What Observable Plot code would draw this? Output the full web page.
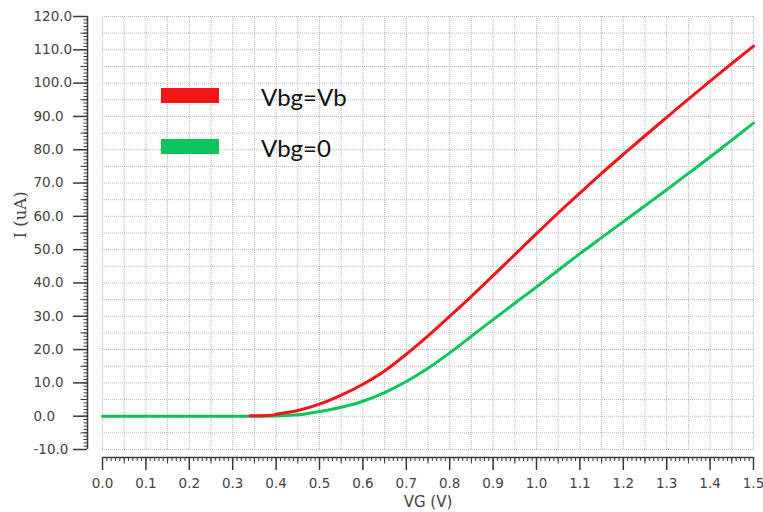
<!DOCTYPE html>
<html>
<head>
<meta charset="utf-8">
<script src="https://cdn.jsdelivr.net/npm/d3@7"></script>
<script src="https://cdn.jsdelivr.net/npm/@observablehq/plot@0.6"></script>
<style>
  html, body { margin: 0; padding: 0; background: #fff; }
  #wrap { position: relative; width: 763px; height: 512px; overflow: hidden; }
  .leg-bar { position: absolute; left: 161px; width: 58px; height: 15px; }
  .leg-txt { position: absolute; left: 261px; font-family: Lato, "Open Sans", sans-serif; font-size: 24px; color: #111; line-height: 1; }
</style>
</head>
<body>
<div id="wrap"></div>
<script>
// ---- data ----
const seriesNames = ["Vbg=Vb", "Vbg=0"];
const seriesColors = ["#f21616", "#0ec45c"];

const redVG = [0.34, 0.39, 0.40, 0.45, 0.50, 0.55, 0.60, 0.65, 0.70, 0.75, 0.80, 0.85, 0.90, 0.95, 1.00, 1.05, 1.10, 1.15, 1.20, 1.25, 1.30, 1.35, 1.40, 1.45, 1.50];
const redI  = [0.1, 0.3, 0.6, 1.7, 3.6, 6.3, 9.6, 13.6, 18.6, 24.1, 30.0, 36.0, 42.2, 48.5, 54.8, 61.0, 67.0, 72.9, 78.6, 84.2, 89.7, 95.2, 100.6, 105.9, 111.1];

const greenVG = [0.00, 0.10, 0.20, 0.30, 0.40, 0.45, 0.50, 0.55, 0.60, 0.65, 0.70, 0.75, 0.80, 0.85, 0.90, 0.95, 1.00, 1.05, 1.10, 1.15, 1.20, 1.25, 1.30, 1.35, 1.40, 1.45, 1.50];
const greenI  = [0, 0, 0, 0, 0.05, 0.4, 1.4, 2.7, 4.5, 7.1, 10.4, 14.4, 19.0, 24.0, 29.0, 33.9, 38.8, 43.8, 48.8, 53.6, 58.4, 63.2, 68.0, 72.9, 77.8, 82.9, 88.0];

// axis ticks
const xMajor = d3.range(0, 16).map(i => i / 10);            // 0.0 .. 1.5
const xMid   = d3.range(0, 15).map(i => i / 10 + 0.05);
const xMinor = d3.range(0, 151).map(i => i / 100);
const xGrid  = d3.range(0, 31).map(i => i * 0.05);
const yMajor = d3.range(-10, 121, 10);
const yMid   = d3.range(-5, 120, 10);
const yMinor = d3.range(-10, 121, 1);
const yGrid  = d3.range(-10, 121, 5);
const xLabel = "VG (V)";
const yLabel = "I (uA)";

const red = redVG.map((v, i) => ({vg: v, i: redI[i]}));
const green = greenVG.map((v, i) => ({vg: v, i: greenI[i]}));

const axisColor = "#3a3a3a";
const textColor = "#444";

const chart = Plot.plot({
  width: 763,
  height: 512,
  marginLeft: 102,
  marginRight: 10,
  marginTop: 16,
  marginBottom: 63,
  style: {fontFamily: "DejaVu Sans, sans-serif", fontSize: "13px", color: textColor, background: "#fff"},
  x: {domain: [0, 1.5], axis: null},
  y: {domain: [-10, 120], axis: null},
  marks: [
    // grid
    Plot.ruleX(xGrid, {stroke: "#b8b8b8", strokeDasharray: "1,1", strokeWidth: 1}),
    Plot.ruleY(yGrid, {stroke: "#b8b8b8", strokeDasharray: "1,1", strokeWidth: 1}),
    // y ruler
    Plot.ruleX([0], {y1: -10, y2: 120, dx: -15, stroke: axisColor, strokeWidth: 1.5}),
    Plot.axisY({ticks: yMinor, tickSize: 3.5, text: null, label: null, dx: -15, stroke: axisColor}),
    Plot.axisY({ticks: yMid, tickSize: 6.5, text: null, label: null, dx: -15, stroke: axisColor}),
    Plot.axisY({ticks: yMajor, tickSize: 14, text: null, label: null, dx: -15, stroke: axisColor, strokeWidth: 1.5}),
    Plot.text(yMajor, {y: d => d, text: d => d.toFixed(1), frameAnchor: "left", textAnchor: "start", dx: -69, fill: textColor, fontSize: 13.5}),
    Plot.text([yLabel], {frameAnchor: "left", dx: -82, dy: 5.5, rotate: -90, fill: textColor, fontSize: 16.5, fontFamily: "DejaVu Serif, serif"}),
    // x ruler
    Plot.ruleY([-10], {x1: 0, x2: 1.5, dy: 8, stroke: axisColor, strokeWidth: 1.5}),
    Plot.axisX({ticks: xMinor, tickSize: 4, text: null, label: null, dy: 8, stroke: axisColor}),
    Plot.axisX({ticks: xMid, tickSize: 6.5, text: null, label: null, dy: 8, stroke: axisColor}),
    Plot.axisX({ticks: xMajor, tickSize: 13, text: null, label: null, dy: 8, stroke: axisColor, strokeWidth: 1.5}),
    Plot.text(xMajor, {x: d => d, text: d => d.toFixed(1), frameAnchor: "bottom", dy: 38, fill: textColor, fontSize: 13.5}),
    Plot.text([xLabel], {frameAnchor: "bottom", dy: 57, fill: textColor, fontSize: 15}),
    // curves
    Plot.line(green, {x: "vg", y: "i", stroke: seriesColors[1], strokeWidth: 3, curve: "monotone-x"}),
    Plot.line(red, {x: "vg", y: "i", stroke: seriesColors[0], strokeWidth: 3, curve: "monotone-x"})
  ]
});

const wrap = document.getElementById("wrap");
wrap.appendChild(chart);

// in-plot legend (overlay)
const legendTops = [88, 139];
seriesNames.forEach((name, k) => {
  const bar = document.createElement("div");
  bar.className = "leg-bar";
  bar.style.top = legendTops[k] + "px";
  bar.style.background = seriesColors[k];
  wrap.appendChild(bar);
  const t = document.createElement("div");
  t.className = "leg-txt";
  t.style.top = (legendTops[k] - 3) + "px";
  t.textContent = name;
  wrap.appendChild(t);
});
</script>
</body>
</html>
